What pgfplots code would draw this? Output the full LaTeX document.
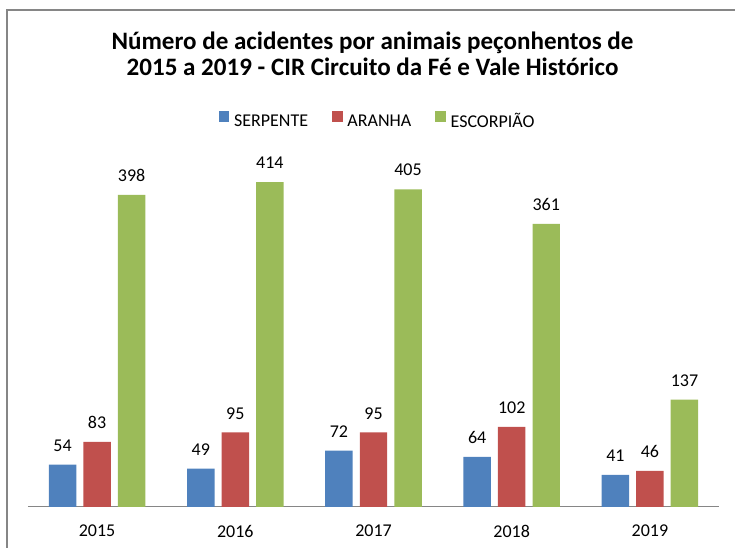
\documentclass[border=0pt]{standalone}
\usepackage{fontspec}
\setmainfont{Carlito}
\usepackage{pgfplots}
\pgfplotsset{compat=1.18}
\definecolor{serp}{RGB}{79,129,189}
\definecolor{aran}{RGB}{192,80,77}
\definecolor{escor}{RGB}{155,187,89}
\definecolor{framegray}{RGB}{134,134,134}
\begin{document}
\begin{tikzpicture}
\begin{axis}[
  at={(0,0)}, anchor=south west,
  scale only axis,
  width=518.25pt, height=264.75pt,
  xmin=-0.5, xmax=4.5, ymin=0, ymax=450,
  enlargelimits=false,
  clip=false,
  hide y axis,
  axis x line*=bottom,
  x axis line style={draw=framegray, line width=0.75pt},
  xtick={0,1,2,3,4},
  xticklabels={2015,2016,2017,2018,2019},
  major tick length=0pt,
  xtick style={draw=none},
  xticklabel style={font=\fontsize{13.5}{16}\selectfont, inner sep=0pt, anchor=north, yshift=-13.5pt},
  /pgf/number format/assume math mode=true,
  ybar=5.3pt, bar width=20.6pt,
  nodes near coords,
  every node near coord/.append style={font=\fontsize{13.5}{16}\selectfont, inner sep=0pt, anchor=south, yshift=9.75pt, text=black},
  title={Número de acidentes por animais peçonhentos de\\2015 a 2019 - CIR Circuito da Fé e Vale Histórico},
  title style={font=\bfseries\fontsize{18.8}{19.5}\selectfont, align=center, at={(0.4986,1)}, anchor=south, inner sep=0pt, yshift=52.5pt},
  legend columns=3,
  legend style={at={(0.506,1)}, anchor=south, yshift=14.5pt, draw=none, fill=none,
    font=\fontsize{13.5}{16}\selectfont,
    /tikz/every odd column/.append style={column sep=2pt},
    /tikz/every even column/.append style={column sep=16.5pt},
    nodes={inner sep=1.5pt}},
  legend image code/.code={\fill[#1] (0pt,0pt) rectangle (8pt,8pt);},
]
\addplot[fill=serp, draw=none] coordinates {(0,54) (1,49) (2,72) (3,64) (4,41)};
\addplot[fill=aran, draw=none] coordinates {(0,83) (1,95) (2,95) (3,102) (4,46)};
\addplot[fill=escor, draw=none] coordinates {(0,398) (1,414) (2,405) (3,361) (4,137)};
\legend{SERPENTE,ARANHA,ESCORPIÃO}
\end{axis}
\draw[framegray, line width=1.1pt] (-15.75pt,-30.75pt) -- (-15.75pt,372.75pt) -- (530.25pt,372.75pt);
\pgfresetboundingbox
\path[use as bounding box] (-21pt,-30.75pt) rectangle (530.25pt,380.25pt);
\end{tikzpicture}
\end{document}
